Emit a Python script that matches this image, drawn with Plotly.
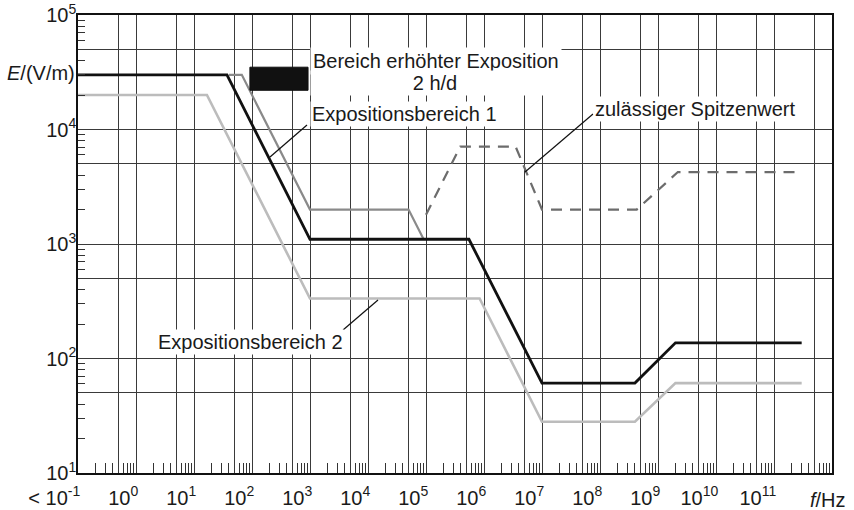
import plotly.graph_objects as go

# ---------------- data ----------------
f_exp1 = [1e-1, 37, 1e3, 5.5e5, 1e7, 4e8, 2e9, 3e11]
e_exp1 = [30000, 30000, 1100, 1100, 61, 61, 137, 137]

f_exp2 = [1e-1, 16.7, 1e3, 8.4e5, 1e7, 4e8, 2e9, 3e11]
e_exp2 = [20000, 20000, 334, 334, 28, 28, 61, 61]

f_erh = [40, 66.7, 1e3, 5e4, 9.1e4]
e_erh = [30000, 30000, 2000, 2000, 1100]

f_peak = [1e5, 3.9e5, 3.5e6, 1e7, 4.3e8, 2.2e9, 3e11]
e_peak = [1800, 7100, 7100, 2000, 2000, 4250, 4250]

rect_f = [92, 925]
rect_e = [22000, 35000]

x_decades = list(range(-1, 12))
x_tick_labels = ["&lt; 10<sup>-1</sup>"] + [f"10<sup>{n}</sup>" for n in range(0, 12)]
y_decades = [1, 2, 3, 4, 5]
y_tick_labels = [f"10<sup>{n}</sup>" for n in y_decades]

# ---------------- layout geometry ----------------
W, H = 854, 510
ML, MR, MT, MB = 78, 22, 15, 37
PW, PH = W - ML - MR, H - MT - MB
FONT = "Liberation Sans, Arial, sans-serif"
TXT = "#1a1a1a"
GRID = "#3a3a3a"


def px(x):
    return (x - ML) / PW


def py(y):
    return (H - MB - y) / PH


fig = go.Figure()

fig.add_trace(go.Scatter(x=f_exp2, y=e_exp2, mode="lines",
                         line=dict(color="#bcbcbc", width=2.6), name="Expositionsbereich 2"))
fig.add_trace(go.Scatter(x=f_erh, y=e_erh, mode="lines",
                         line=dict(color="#8a8a8a", width=2.2), name="Bereich erhöhter Exposition"))
fig.add_trace(go.Scatter(x=f_peak, y=e_peak, mode="lines",
                         line=dict(color="#6c6c6c", width=2.2, dash="11px,8px"),
                         name="zulässiger Spitzenwert"))
fig.add_trace(go.Scatter(x=f_exp1, y=e_exp1, mode="lines",
                         line=dict(color="#111111", width=2.8), name="Expositionsbereich 1"))
# legend swatch for "Bereich erhöhter Exposition 2 h/d" (drawn on the overlay axes, same scale)
fig.add_trace(go.Scatter(x=[rect_f[0], rect_f[1], rect_f[1], rect_f[0], rect_f[0]],
                         y=[rect_e[0], rect_e[0], rect_e[1], rect_e[1], rect_e[0]],
                         mode="lines", fill="toself", fillcolor="#111111",
                         line=dict(color="#111111", width=1), name="2 h/d",
                         xaxis="x2", yaxis="y2"))

x_major = [10.0 ** n for n in x_decades]
x_half = [5 * 10.0 ** n for n in x_decades]
x_minor = [k * 10.0 ** n for n in x_decades for k in (2, 3, 4, 6, 7, 8, 9)]
y_major = [10.0 ** n for n in y_decades]
y_half = [5 * 10.0 ** n for n in y_decades[:-1]]
y_minor = [k * 10.0 ** n for n in y_decades[:-1] for k in (2, 3, 4, 6, 7, 8, 9)]

XR, YR = [-1, 12], [1, 5]

fig.update_layout(
    xaxis=dict(type="log", range=XR, automargin=False, showline=True, linecolor="#111",
               linewidth=1.5, mirror=True, showgrid=True, gridcolor=GRID, gridwidth=1,
               tickmode="array", tickvals=x_major, ticktext=x_tick_labels, ticks="",
               ticklabelposition="outside left", ticklabelshift=3, ticklabelstandoff=6,
               tickfont=dict(family=FONT, size=20, color=TXT),
               minor=dict(tickmode="array", tickvals=x_half, ticks="", showgrid=True,
                          gridcolor=GRID, gridwidth=1),
               zeroline=False),
    yaxis=dict(type="log", range=YR, automargin=False, showline=True, linecolor="#111",
               linewidth=1.5, mirror=True, showgrid=True, gridcolor=GRID, gridwidth=1,
               tickmode="array", tickvals=y_major, ticktext=y_tick_labels, ticks="",
               ticklabelstandoff=-4,
               tickfont=dict(family=FONT, size=20, color=TXT),
               minor=dict(tickmode="array", tickvals=y_half, ticks="", showgrid=True,
                          gridcolor=GRID, gridwidth=1),
               zeroline=False),
    xaxis2=dict(type="log", range=XR, automargin=False, overlaying="x", anchor="y2",
                side="bottom", showgrid=False, showline=False, showticklabels=False,
                tickmode="array", tickvals=x_minor, ticks="inside", ticklen=10,
                tickwidth=1, tickcolor="#333", zeroline=False),
    yaxis2=dict(type="log", range=YR, automargin=False, overlaying="y", anchor="x2",
                side="left", showgrid=False, showline=False, showticklabels=False,
                tickmode="array", tickvals=y_minor, ticks="inside", ticklen=7,
                tickwidth=1, tickcolor="#333", zeroline=False),
)

ann_font = dict(family=FONT, size=20, color=TXT)
annotations = [
    dict(text="Bereich erhöhter Exposition", x=px(310), y=py(61), xanchor="left", yanchor="middle",
         bgcolor="white", borderpad=2),
    dict(text="2 h/d", x=px(435), y=py(83), xanchor="center", yanchor="middle",
         bgcolor="white", width=246, borderpad=1),
    dict(text="Expositionsbereich 1", x=px(310), y=py(114), xanchor="left", yanchor="middle",
         bgcolor="white", borderpad=1),
    dict(text="zulässiger Spitzenwert", x=px(593), y=py(109), xanchor="left", yanchor="middle",
         bgcolor="white", borderpad=1),
    dict(text="Expositionsbereich 2", x=px(156), y=py(342), xanchor="left", yanchor="middle",
         bgcolor="white", borderpad=1),
    dict(text="<i>E</i>/(V/m)", x=px(77), y=py(73), xanchor="right", yanchor="middle"),
    dict(text="<i>f</i>/Hz", x=px(848), y=py(500), xanchor="right", yanchor="middle"),
]
for a in annotations:
    a.update(xref="paper", yref="paper", showarrow=False, font=ann_font)

leaders = [((307, 125), (270, 157)), ((593, 114), (525, 172)), ((343, 330), (378, 300))]
shapes = [dict(type="line", xref="paper", yref="paper", x0=px(a[0]), y0=py(a[1]),
               x1=px(b[0]), y1=py(b[1]), line=dict(color="#111", width=1.2), layer="above")
          for a, b in leaders]

fig.update_layout(width=W, height=H, margin=dict(l=ML, r=MR, t=MT, b=MB),
                  paper_bgcolor="white", plot_bgcolor="white", showlegend=False,
                  annotations=annotations, shapes=shapes,
                  font=dict(family=FONT, color=TXT))

fig.write_html("out.html", config={"displayModeBar": False},
               post_script="document.body.style.margin='0';document.body.style.padding='0';")
